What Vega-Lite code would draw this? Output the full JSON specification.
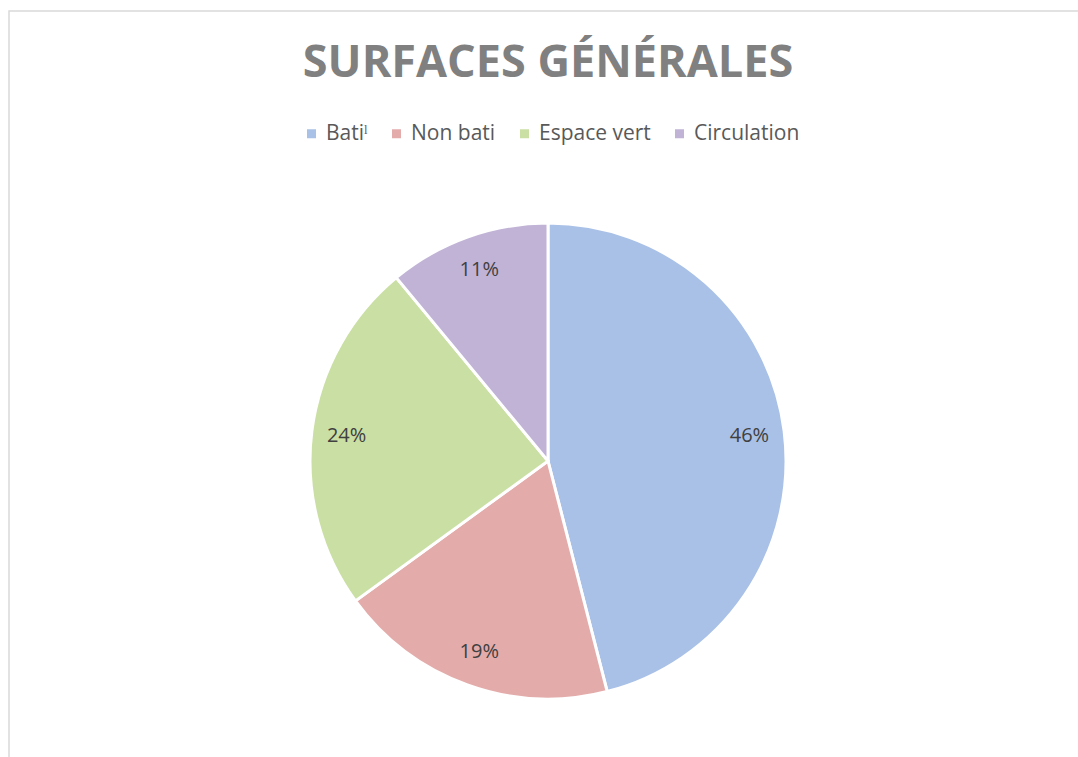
{
  "$schema": "https://vega.github.io/schema/vega-lite/v6.json",
  "width": 1078,
  "height": 757,
  "autosize": {"type": "fit", "contains": "padding"},
  "padding": {"left": 9, "top": 11, "right": -9, "bottom": -154},
  "background": "white",
  "view": {"stroke": "#d9d9d9", "strokeWidth": 1.5},
  "title": {
    "text": "SURFACES GÉNÉRALES",
    "font": "Open Sans",
    "fontSize": 45,
    "fontWeight": "bold",
    "color": "#808080",
    "anchor": "middle",
    "frame": "group",
    "baseline": "alphabetic",
    "offset": -111
  },
  "data": {
    "values": [
      {"type": "Batiˡ", "pct": 0.46, "ordre": 1},
      {"type": "Non bati", "pct": 0.19, "ordre": 2},
      {"type": "Espace vert", "pct": 0.24, "ordre": 3},
      {"type": "Circulation", "pct": 0.11, "ordre": 4}
    ]
  },
  "layer": [
    {
      "mark": {"type": "arc", "outerRadius": 238, "stroke": "white", "strokeWidth": 3},
      "encoding": {
        "theta": {"field": "pct", "type": "quantitative", "stack": true},
        "order": {"field": "ordre", "type": "quantitative"},
        "color": {
          "field": "type",
          "type": "nominal",
          "scale": {
            "domain": ["Batiˡ", "Non bati", "Espace vert", "Circulation"],
            "range": ["#a9c1e6", "#e3acab", "#cadfa3", "#c0b3d6"]
          },
          "legend": {
            "orient": "none",
            "legendX": 292,
            "legendY": 112,
            "direction": "horizontal",
            "columns": 4,
            "title": null,
            "padding": 0,
            "symbolType": "square",
            "symbolSize": 81,
            "symbolStrokeWidth": 0,
            "labelFont": "Open Sans",
            "labelFontSize": 21,
            "labelColor": "#595959",
            "labelOffset": 4,
            "columnPadding": 18
          }
        }
      }
    },
    {
      "mark": {"type": "text", "radius": 203, "font": "Open Sans", "fontSize": 20, "color": "#404040"},
      "encoding": {
        "theta": {"field": "pct", "type": "quantitative", "stack": true},
        "order": {"field": "ordre", "type": "quantitative"},
        "detail": {"field": "type", "type": "nominal"},
        "text": {"field": "pct", "type": "quantitative", "format": ".0%"}
      }
    }
  ]
}
